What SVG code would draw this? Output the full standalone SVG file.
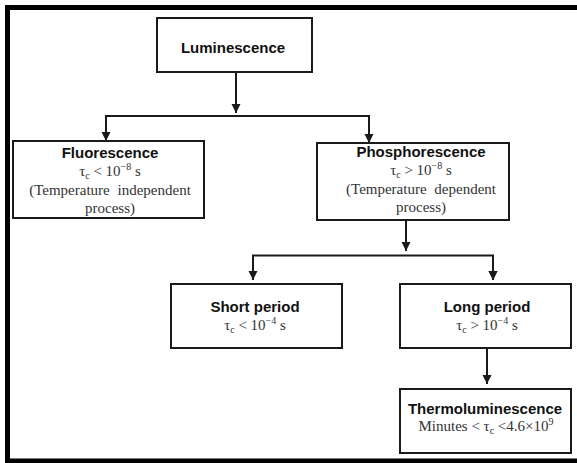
<svg xmlns="http://www.w3.org/2000/svg" width="577" height="463" viewBox="0 0 577 463">
<style>
.box{fill:#fff;stroke:#1a1a1a;stroke-width:2}
.t{font-family:"Liberation Sans",Arial,sans-serif;font-weight:bold;font-size:15px;fill:#111;text-anchor:middle}
.s{font-family:"Liberation Serif","Times New Roman",serif;font-size:15px;fill:#333;text-anchor:middle}
.c{fill:none;stroke:#1a1a1a;stroke-width:2}
</style>
<defs>
<marker id="ah" markerUnits="userSpaceOnUse" markerWidth="10" markerHeight="10" refX="9" refY="4.5" orient="auto">
<path d="M0,0 L9,4.5 L0,9 Z" fill="#1a1a1a"/>
</marker>
</defs>
<rect width="577" height="463" fill="#fff"/>
<path d="M577,7.5 H7.5 V461 H577" fill="none" stroke="#000" stroke-width="5"/>
<g id="connectors">
<line class="c" x1="236" y1="72" x2="236" y2="113" marker-end="url(#ah)"/>
<path class="c" d="M106,141 V116 H369 V143" marker-end="url(#ah)"/>
<path class="c" d="M106,116 V141" marker-end="url(#ah)"/>
<line class="c" x1="406" y1="220" x2="406" y2="251" marker-end="url(#ah)"/>
<path class="c" d="M253,280 V255.5 H493 V280" marker-end="url(#ah)"/>
<path class="c" d="M493,255.5 V280" marker-end="url(#ah)"/>
<path class="c" d="M253,255.5 V280" marker-end="url(#ah)"/>
<line class="c" x1="487" y1="348" x2="487" y2="384" marker-end="url(#ah)"/>
</g>
<g id="luminescence">
<rect class="box" x="157" y="18" width="155" height="54"/>
<text class="t" x="233" y="53">Luminescence</text>
</g>
<g id="fluorescence">
<rect class="box" x="13" y="141" width="191" height="77"/>
<text class="t" x="110" y="158">Fluorescence</text>
<text class="s" x="110" y="176">τ<tspan font-size="10" dy="3">c</tspan><tspan dy="-3"> &lt; 10</tspan><tspan font-size="10" dy="-6">−8</tspan><tspan dy="6"> s</tspan></text>
<text class="s" x="110" y="195" word-spacing="4">(Temperature independent</text>
<text class="s" x="110" y="213">process)</text>
</g>
<g id="phosphorescence">
<rect class="box" x="317" y="143" width="192" height="77"/>
<text class="t" x="421" y="157">Phosphorescence</text>
<text class="s" x="421" y="175">τ<tspan font-size="10" dy="3">c</tspan><tspan dy="-3"> &gt; 10</tspan><tspan font-size="10" dy="-6">−8</tspan><tspan dy="6"> s</tspan></text>
<text class="s" x="421" y="194" word-spacing="4">(Temperature dependent</text>
<text class="s" x="421" y="212">process)</text>
</g>
<g id="short-period">
<rect class="box" x="171" y="284" width="171" height="64"/>
<text class="t" x="255" y="312">Short period</text>
<text class="s" x="255" y="330">τ<tspan font-size="10" dy="3">c</tspan><tspan dy="-3"> &lt; 10</tspan><tspan font-size="10" dy="-6">−4</tspan><tspan dy="6"> s</tspan></text>
</g>
<g id="long-period">
<rect class="box" x="400" y="284" width="171" height="64"/>
<text class="t" x="487" y="312">Long period</text>
<text class="s" x="487" y="330">τ<tspan font-size="10" dy="3">c</tspan><tspan dy="-3"> &gt; 10</tspan><tspan font-size="10" dy="-6">−4</tspan><tspan dy="6"> s</tspan></text>
</g>
<g id="thermoluminescence">
<rect class="box" x="400" y="389" width="171" height="64"/>
<text class="t" x="485" y="414">Thermoluminescence</text>
<text class="s" x="486" y="431">Minutes &lt; τ<tspan font-size="10" dy="3">c</tspan><tspan dy="-3"> &lt;4.6×10</tspan><tspan font-size="10" dy="-6">9</tspan></text>
</g>
</svg>
